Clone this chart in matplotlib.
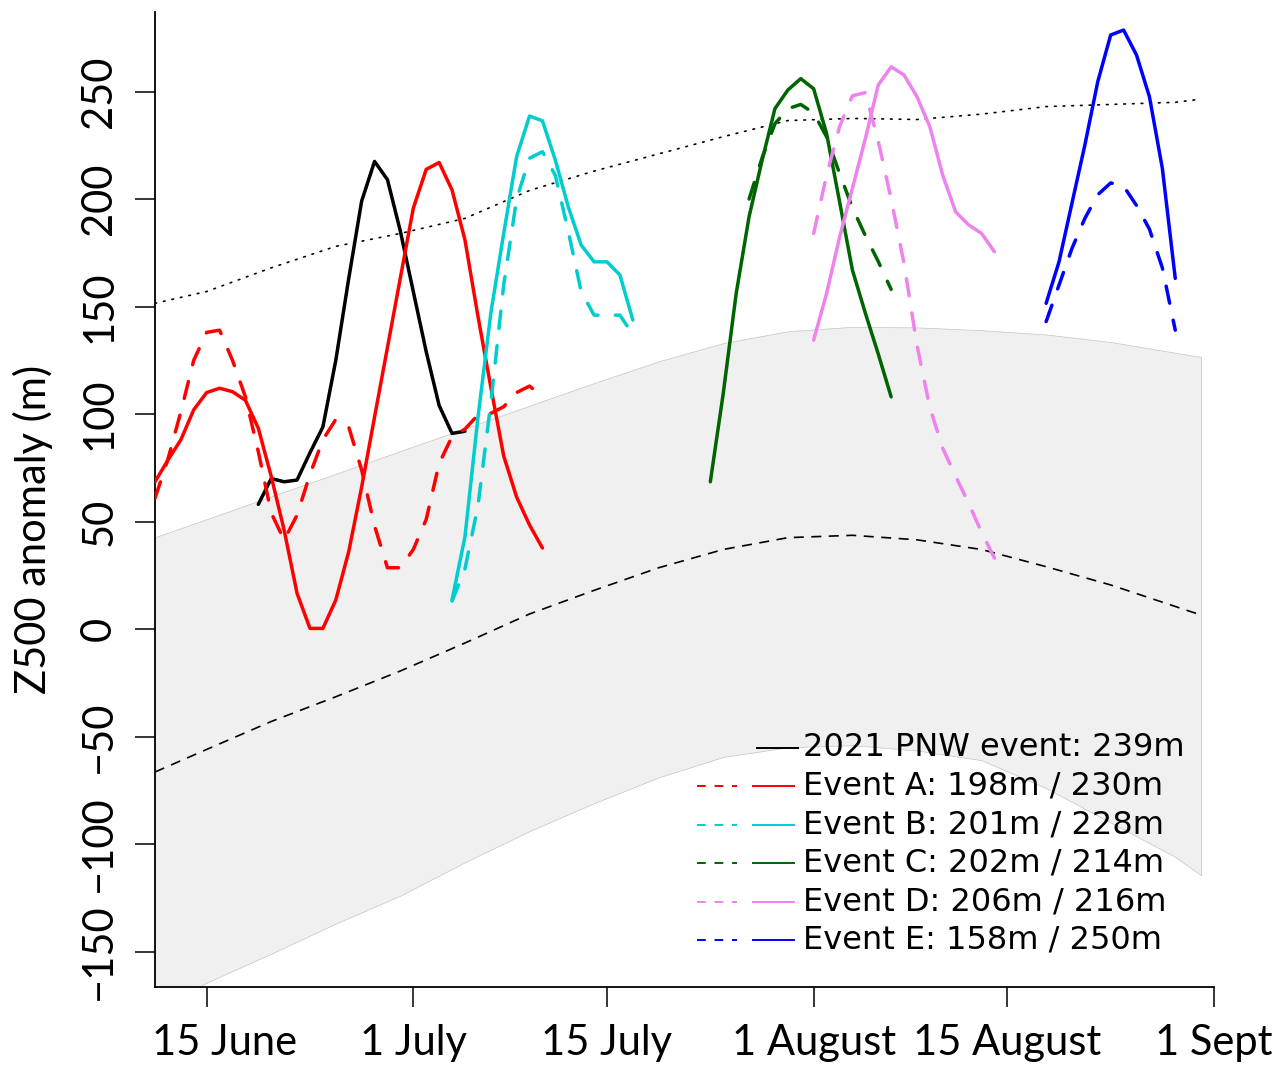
import matplotlib
matplotlib.use('Agg')
import matplotlib.pyplot as plt
import matplotlib.transforms as mtransforms

# ── Data (days relative to 15 June) ──────────────────────────────────────────
clim_days = [-4, 0, 5, 10, 15, 20, 25, 30, 35, 40, 45, 50, 55, 60, 65, 70, 75, 77]
band_hi   = [42.7, 51.1, 61.7, 72.2, 82.8, 93.3, 103.9, 114.4, 124.5, 133, 138.5,
             140.6, 140.3, 139, 137, 133.5, 128.5, 126.5]
band_lo   = [-176, -164.5, -151, -137, -124, -108.5, -94, -81, -69, -59.5, -55,
             -54, -56.5, -61, -74, -90, -106, -114.5]
clim_mid  = [-66.5, -56, -43, -31.5, -19.5, -6.5, 7, 18, 28.5, 37, 42.5,
             43.6, 41.5, 37, 29, 20.5, 10.5, 6.5]
clim_top  = [151.5, 157, 168, 178, 184, 191, 204, 213, 221, 229, 236.5,
             237.5, 237, 239.5, 243, 244, 245, 246.5]

pnw_days = list(range(4, 21))
pnw_vals = [58, 70, 68.5, 69.3, 82, 94, 125, 163, 199, 217.5, 209, 185, 157,
            129, 104, 91, 92]

a_days = list(range(-4, 27))
a_solid = [68.5, 78.6, 88, 102, 110, 112, 110.4, 106.4, 93.4, 71, 46, 16.6,
           0.3, 0.3, 13.5, 36, 66, 98.6, 131, 163.4, 195.7, 213.8, 217, 204.2,
           181, 145.7, 112.6, 80.5, 61.4, 48.4, 37.7]
a_dash = [60.8, 79, 101, 125, 138, 139, 125, 108, 82.5, 54, 41.4, 53, 72, 88,
          97.5, 94, 74, 48, 28.5, 28.5, 37, 51, 77, 89.5, 93, 99.5, 100.3,
          103.4, 110, 113, 108]

b_days = list(range(19, 34))
b_solid = [13.5, 42.9, 98, 146.8, 184, 219.7, 238.6, 236.4, 218.1, 196.4,
           178.6, 170.8, 170.8, 164.7, 143.7]
b_dash = [13, 28, 57, 105, 160, 200, 219, 222, 211, 185, 157, 146, 146, 146,
          137]

c_days = list(range(39, 54))
c_solid = [68.5, 109.6, 156, 191.8, 217.8, 242, 250.7, 256, 251.3, 230.5, 199,
           167, 147, 128, 108]
c_dash_days = list(range(42, 54))
c_dash = [200, 219, 235, 242, 244, 240, 229, 212, 196, 183, 171, 158]

d_days = list(range(47, 62))
d_solid = [134.4, 156, 182, 205, 228, 253, 261.5, 257.7, 247.6, 233.6, 211,
           194, 188, 184, 175.5]
d_dash = [184, 211, 233.6, 248, 249.5, 227, 200, 170, 132, 103, 84, 71, 58.5,
          45, 33]

e_days = list(range(65, 76))
e_solid = [151.5, 170.8, 198, 225.1, 254.6, 276.3, 278.6, 267, 247.6, 214.3,
           163.1]
e_dash = [143, 160, 177, 191, 202, 207.5, 206, 197, 186, 168, 139]

tick_pos = [0, 16, 31, 47, 62, 78]
tick_lab = ['15 June', '1 July', '15 July', '1 August', '15 August', '1 Sept']
ytick_pos = [-150, -100, -50, 0, 50, 100, 150, 200, 250]

events = [
    ('Event A: 198m / 230m', 'red',       a_days, a_dash,      a_days, a_solid),
    ('Event B: 201m / 228m', '#00CDCD',   b_days, b_dash,      b_days, b_solid),
    ('Event C: 202m / 214m', '#006400',   c_dash_days, c_dash, c_days, c_solid),
    ('Event D: 206m / 216m', 'violet',    d_days, d_dash,      d_days, d_solid),
    ('Event E: 158m / 250m', 'blue',      e_days, e_dash,      e_days, e_solid),
]

# ── Figure ────────────────────────────────────────────────────────────────────
W, H = 1279, 1066
fig = plt.figure(figsize=(W / 100, H / 100), dpi=100)
L, R, B, T = 155, 1214, 987, 12
ax = fig.add_axes([L / W, 1 - B / H, (R - L) / W, (B - T) / H])

ax.fill_between(clim_days, band_lo, band_hi, facecolor='#f0f0f0',
                edgecolor='#c4c4c4', linewidth=0.5, zorder=1)
ax.plot(clim_days, clim_mid, color='black', lw=1.2, ls=(0, (6, 4.5)), zorder=2)
ax.plot(clim_days, clim_top, color='black', lw=1.2, ls=(0, (1, 4.2)),
        dash_capstyle='round', zorder=2)

lw = 2.5
dash = (0, (5, 5))
ax.plot(pnw_days, pnw_vals, color='black', lw=lw, solid_capstyle='round', zorder=3)
for label, col, dd, dv, sd, sv in events:
    ax.plot(dd, dv, color=col, lw=lw, ls=dash, dash_capstyle='round', zorder=3)
    ax.plot(sd, sv, color=col, lw=lw, solid_capstyle='round', zorder=3)

ax.set_xlim(-4, 78)
ax.set_ylim(-166.5, 287)

for side in ('top', 'right'):
    ax.spines[side].set_visible(False)
for side in ('left', 'bottom'):
    ax.spines[side].set_linewidth(1.3)

tick_font = ['Lato', 'DejaVu Sans']
ax.set_xticks(tick_pos)
ax.set_xticklabels(tick_lab, family=tick_font, fontsize=30)
ax.set_yticks(ytick_pos)
ax.set_yticklabels([str(v).replace('-', '\u2212') for v in ytick_pos],
                   family=tick_font, fontsize=30, rotation=90, va='center')
ax.tick_params(axis='both', length=14.5, width=1.1, pad=12)

# first date label sits a little right of its tick in the original
first = ax.get_xticklabels()[0]
first.set_transform(first.get_transform() +
                    mtransforms.ScaledTranslation(0.18, 0, fig.dpi_scale_trans))

ax.text((33 - L) / (R - L), (B - 529) / (B - T), 'Z500 anomaly (m)',
        transform=ax.transAxes, rotation=90, ha='center', va='center',
        family=tick_font, fontsize=30)

# ── Legend (drawn by hand: dashed + solid sample columns) ────────────────────
def fx(px):
    return (px - L) / (R - L)

def fy(py):
    return (B - py) / (B - T)

row_y = [748 + 38.4 * i for i in range(6)]
ax.plot([fx(757), fx(798)], [fy(row_y[0])] * 2, color='black', lw=1.4,
        transform=ax.transAxes, clip_on=False)
ax.text(fx(803), fy(row_y[0]), '2021 PNW event: 239m', transform=ax.transAxes,
        ha='left', va='center', fontsize=23, family='DejaVu Sans')
for i, (label, col, *_rest) in enumerate(events):
    y = fy(row_y[i + 1])
    ax.plot([fx(697), fx(737)], [y, y], color=col, lw=1.4, ls=(0, (4.5, 4.5)),
            transform=ax.transAxes, clip_on=False)
    ax.plot([fx(753), fx(794)], [y, y], color=col, lw=1.4,
            transform=ax.transAxes, clip_on=False)
    ax.text(fx(803), y, label, transform=ax.transAxes, ha='left', va='center',
            fontsize=23, family='DejaVu Sans')

fig.savefig('out.png', dpi=100)
